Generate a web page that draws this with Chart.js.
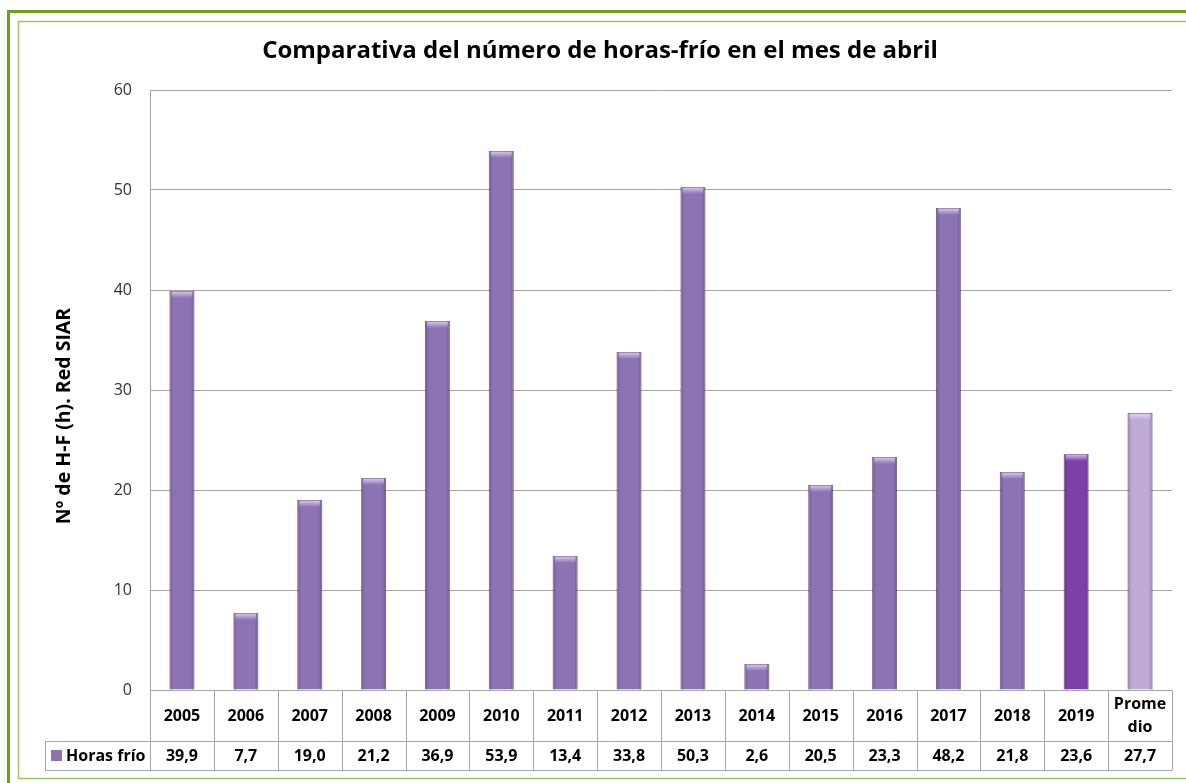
<!DOCTYPE html>
<html>
<head>
<meta charset="utf-8">
<script src="https://cdn.jsdelivr.net/npm/chart.js@4/dist/chart.umd.min.js"></script>
<style>
  html, body { margin: 0; padding: 0; background: #fff; }
  #wrap { width: 1186px; height: 783px; }
</style>
</head>
<body>
<div id="wrap"><canvas id="chart" width="1186" height="783"></canvas></div>
<script>
// data
const categories = ['2005','2006','2007','2008','2009','2010','2011','2012','2013','2014','2015','2016','2017','2018','2019',['Prome','dio']];
const horasFrio  = [39.9, 7.7, 19.0, 21.2, 36.9, 53.9, 13.4, 33.8, 50.3, 2.6, 20.5, 23.3, 48.2, 21.8, 23.6, 27.7];
const yTicks     = [0, 10, 20, 30, 40, 50, 60];

const TITLE   = 'Comparativa del número de horas-frío en el mes de abril';
const Y_TITLE = 'Nº de H-F (h). Red SIAR';
const SERIES  = 'Horas frío';

const FONT = '"Open Sans", Lato, sans-serif';
const BAR      = '#8d73b3';
const BAR_2019 = '#7f3fa9';
const BAR_AVG  = '#bfaad6';
const GRID     = '#a6a6a6';

const barColors = categories.map(c => c === '2019' ? BAR_2019 : (Array.isArray(c) ? BAR_AVG : BAR));
const fmt = v => v.toFixed(1).replace('.', ',');

// frame, title, y title
const framePlugin = {
  id: 'frame',
  beforeDraw(chart) {
    const ctx = chart.ctx;
    ctx.save();
    ctx.fillStyle = '#fff';
    ctx.fillRect(0, 0, chart.width, chart.height);
    ctx.strokeStyle = '#6aa312';
    ctx.lineWidth = 3;
    ctx.strokeRect(8.5, 11.5, 1200, 800);
    ctx.strokeStyle = '#a4c16e';
    ctx.lineWidth = 1.5;
    ctx.strokeRect(18.5, 21.5, 1200, 757);
    ctx.restore();
  },
  afterDraw(chart) {
    const ctx = chart.ctx;
    ctx.save();
    ctx.fillStyle = '#000';
    ctx.font = 'bold 24px ' + FONT;
    ctx.textAlign = 'center';
    ctx.textBaseline = 'middle';
    ctx.fillText(TITLE, 600, 51);
    ctx.translate(64, 416);
    ctx.rotate(-Math.PI / 2);
    ctx.font = 'bold 19.5px ' + FONT;
    ctx.fillText(Y_TITLE, 0, 0);
    ctx.restore();
  }
};

// soft 3D look on each bar
const bevelPlugin = {
  id: 'bevel',
  afterDatasetsDraw(chart) {
    const ctx = chart.ctx;
    const meta = chart.getDatasetMeta(0);
    ctx.save();
    meta.data.forEach(bar => {
      const l = bar.x - bar.width / 2, w = bar.width;
      const t = bar.y, h = bar.base - bar.y;
      const g = ctx.createLinearGradient(l, 0, l + w, 0);
      g.addColorStop(0, 'rgba(40,20,70,0.28)');
      g.addColorStop(0.16, 'rgba(40,20,70,0.0)');
      g.addColorStop(0.84, 'rgba(40,20,70,0.0)');
      g.addColorStop(1, 'rgba(40,20,70,0.28)');
      ctx.fillStyle = g;
      ctx.fillRect(l, t, w, h);
      const cap = Math.min(7, h);
      const g2 = ctx.createLinearGradient(0, t, 0, t + cap);
      g2.addColorStop(0, 'rgba(235,222,255,0.85)');
      g2.addColorStop(1, 'rgba(235,222,255,0)');
      ctx.fillStyle = g2;
      ctx.fillRect(l + 2, t + 1, w - 4, cap);
    });
    ctx.restore();
  }
};

// data table under the plot
const tablePlugin = {
  id: 'dataTable',
  afterDraw(chart) {
    const ctx = chart.ctx;
    const x = chart.scales.x;
    const area = chart.chartArea;
    const top = area.bottom, mid = top + 51, bot = top + 80, leftKey = 45;
    const step = (area.right - area.left) / categories.length;
    ctx.save();
    ctx.strokeStyle = GRID;
    ctx.lineWidth = 1;
    ctx.beginPath();
    ctx.moveTo(area.left, top + 0.5); ctx.lineTo(area.right, top + 0.5);
    ctx.moveTo(leftKey, mid + 0.5); ctx.lineTo(area.right, mid + 0.5);
    ctx.moveTo(leftKey, bot + 0.5); ctx.lineTo(area.right, bot + 0.5);
    ctx.moveTo(leftKey + 0.5, mid); ctx.lineTo(leftKey + 0.5, bot);
    for (let i = 0; i <= categories.length; i++) {
      const px = Math.round(area.left + i * step) + 0.5;
      ctx.moveTo(px, top); ctx.lineTo(px, bot);
    }
    ctx.stroke();

    ctx.fillStyle = '#000';
    ctx.font = 'bold 16px ' + FONT;
    ctx.textAlign = 'center';
    ctx.textBaseline = 'middle';
    categories.forEach((c, i) => {
      const cx = x.getPixelForValue(i);
      if (Array.isArray(c)) {
        c.forEach((line, j) => ctx.fillText(line, cx, top + 26 + (j - (c.length - 1) / 2) * 23));
      } else {
        ctx.fillText(c, cx, top + 26);
      }
      ctx.fillText(fmt(horasFrio[i]), cx, mid + 15);
    });

    // legend key
    ctx.fillStyle = BAR;
    ctx.fillRect(leftKey + 6, mid + 9, 11, 11);
    ctx.fillStyle = '#000';
    ctx.textAlign = 'left';
    ctx.fillText(SERIES, leftKey + 21, mid + 15);
    ctx.restore();
  }
};

new Chart(document.getElementById('chart'), {
  type: 'bar',
  data: {
    labels: categories,
    datasets: [{
      label: SERIES,
      data: horasFrio,
      backgroundColor: barColors,
      borderColor: 'rgba(70,45,100,0.55)',
      borderWidth: 1,
      categoryPercentage: 1,
      barPercentage: 0.39
    }]
  },
  options: {
    responsive: false,
    animation: false,
    layout: { padding: { left: 20, right: 14, top: 90, bottom: 93 } },
    plugins: {
      legend: { display: false },
      title: { display: false },
      tooltip: { enabled: false }
    },
    scales: {
      x: { display: false },
      y: {
        min: yTicks[0],
        max: yTicks[yTicks.length - 1],
        afterBuildTicks: s => { s.ticks = yTicks.map(v => ({ value: v })); },
        afterFit: s => { s.width = 130; },
        ticks: { color: '#333', font: { family: FONT, size: 16 }, padding: 18 },
        grid: { color: GRID, drawTicks: false },
        border: { color: GRID }
      }
    }
  },
  plugins: [framePlugin, bevelPlugin, tablePlugin]
});
</script>
</body>
</html>
